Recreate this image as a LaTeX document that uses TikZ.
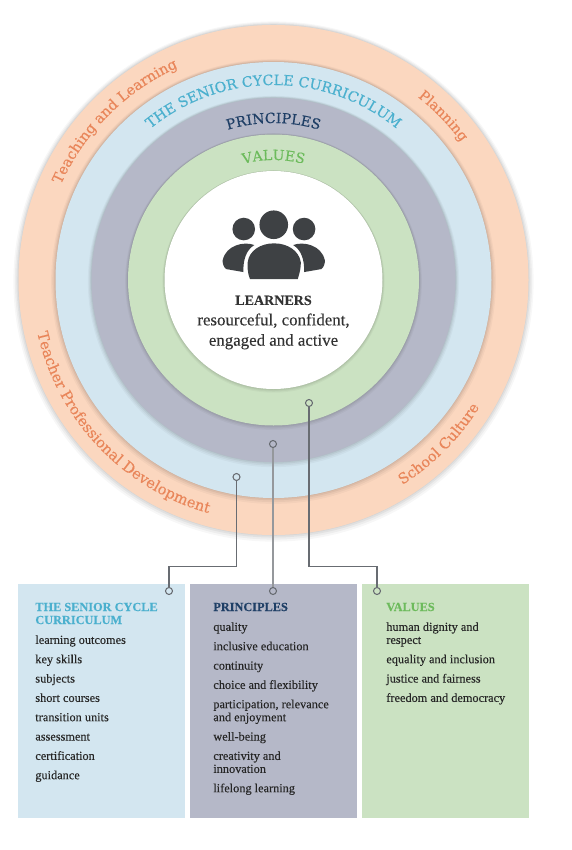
\documentclass[tikz,border=0pt]{standalone}
\usepackage{fontspec}
\setmainfont[FakeBold=0.15,BoldFont={Liberation Serif Bold},BoldFeatures={FakeBold=0.2}]{Liberation Serif}
\newfontfamily\ringfont[FakeBold=0.3]{DejaVu Serif}
\usetikzlibrary{shadows,decorations.text}
\definecolor{peachring}{HTML}{FBD7BF}
\definecolor{bluering}{HTML}{D3E6F0}
\definecolor{greyring}{HTML}{B5B8C8}
\definecolor{greenring}{HTML}{CBE2C2}
\definecolor{peachtext}{HTML}{E9865A}
\definecolor{bluetext}{HTML}{4BB0CE}
\definecolor{navytext}{HTML}{1F3F66}
\definecolor{greentext}{HTML}{6DBB5C}
\definecolor{icongrey}{HTML}{3E4144}
\definecolor{wiregrey}{HTML}{686C72}
\begin{document}
\begin{tikzpicture}[
  softedge/.style={
    drop shadow={shadow xshift=0cm, shadow yshift=-0.03cm, shadow scale=1.02, opacity=.03, fill=black},
    drop shadow={shadow xshift=0cm, shadow yshift=-0.02cm, shadow scale=1.014, opacity=.04, fill=black},
    drop shadow={shadow xshift=0cm, shadow yshift=-0.01cm, shadow scale=1.008, opacity=.05, fill=black},
    drop shadow={shadow xshift=0cm, shadow yshift=0cm, shadow scale=1.003, opacity=.05, fill=black}},
  ring/.style={circle, inner sep=0pt, softedge},
  panel/.style={minimum width=3.34cm, minimum height=4.68cm, anchor=north west, inner sep=0pt},
  paneltitle/.style={anchor=north west, inner sep=0pt, align=left, font=\bfseries\fontsize{7}{7.4}\selectfont},
  panellist/.style={anchor=north west, inner sep=0pt, align=left, text=black!85, font=\fontsize{7}{7.4}\selectfont},
  dot/.style={circle, draw=wiregrey, line width=0.6pt, inner sep=0pt, minimum size=0.14cm},
  wire/.style={draw=wiregrey, line width=0.6pt},
  arclabel/.style n args={3}{decorate, decoration={text along path, text align=center,
    text={|\ringfont\fontsize{#2}{#2}\selectfont\color{#1}|#3}}}
]
\useasboundingbox (0,0) rectangle (11.44,-17);
% rings
\node[ring, fill=peachring, minimum size=10.2cm] (outer) at (5.47,-5.6) {};
\node[ring, fill=bluering, minimum size=8.72cm] (curriculum) at (5.47,-5.6) {};
\node[ring, fill=greyring, minimum size=7.28cm] (principles) at (5.47,-5.6) {};
\node[ring, fill=greenring, minimum size=5.82cm] (values) at (5.47,-5.6) {};
\node[ring, fill=white, minimum size=4.36cm] (learners) at (5.47,-5.6) {};
% labels on the rings
\begin{scope}[shift={(5.47,-5.6)}]
\path[arclabel={peachtext}{8.2}{Teaching and Learning}] (158:4.66) arc (158:112:4.66);
\path[arclabel={peachtext}{8}{Planning}] (54.5:4.66) arc (54.5:33.5:4.66);
\path[arclabel={peachtext}{8.4}{Teacher Professional Development}] (190:4.84) arc (190:257:4.84);
\path[arclabel={peachtext}{8.3}{School Culture}] (299.5:4.84) arc (299.5:331:4.84);
\path[arclabel={bluetext}{8.1}{THE SENIOR CYCLE CURRICULUM}] (133:3.9) arc (133:47:3.9);
\path[arclabel={navytext}{8}{PRINCIPLES}] (110:3.14) arc (110:70:3.14);
\path[arclabel={greentext}{8}{VALUES}] (110:2.4) arc (110:70:2.4);
\end{scope}
% icon
\begin{scope}[x=0.02cm, y=-0.02cm, fill=icongrey]
\fill (273.7,224.7) circle (14.3);
\fill (243.7,229) circle (11.3);
\fill (304,229) circle (11.3);
\fill (250,279) .. controls (247,272) and (247.5,266) .. (247.7,262)
  .. controls (249,251) and (260,243.3) .. (274,243.3)
  .. controls (288,243.3) and (299,251) .. (300.7,262)
  .. controls (301,266) and (300,272) .. (297.7,279) -- cycle;
\fill (254.3,245) .. controls (246,250) and (243,260) .. (243.3,272) -- (226,269)
  .. controls (223.5,267) and (222.3,263) .. (222.7,260)
  .. controls (226,245) and (244,241) .. (254.3,245) -- cycle;
\fill (293.1,245) .. controls (301.4,250) and (304.4,260) .. (304.1,272) -- (321.4,269)
  .. controls (323.9,267) and (325.1,263) .. (324.7,260)
  .. controls (321.4,245) and (303.4,241) .. (293.1,245) -- cycle;
\end{scope}
\node[align=center, text=black!80, font=\fontsize{9.6}{11.6}\selectfont] (learnerstext) at (5.47,-6.45)
  {{\bfseries\fontsize{8}{11.6}\selectfont LEARNERS}\\resourceful, confident,\\engaged and active};
% panels
\node[panel, fill=bluering] (curriculumbox) at (0.36,-11.68) {};
\node[panel, fill=greyring] (principlesbox) at (3.80,-11.68) {};
\node[panel, fill=greenring] (valuesbox) at (7.24,-11.68) {};
\node[paneltitle, text=bluetext] (curriculumtitle) at (0.70,-12.05) {THE SENIOR CYCLE\\CURRICULUM};
\node[panellist] (curriculumlist) at (0.70,-12.70) {learning outcomes\\[3.6pt]key skills\\[3.6pt]subjects\\[3.6pt]short courses\\[3.6pt]transition units\\[3.6pt]assessment\\[3.6pt]certification\\[3.6pt]guidance};
\node[paneltitle, text=navytext] (principlestitle) at (4.26,-12.05) {PRINCIPLES};
\node[panellist] (principleslist) at (4.26,-12.44) {quality\\[3.6pt]inclusive education\\[3.6pt]continuity\\[3.6pt]choice and flexibility\\[3.6pt]participation, relevance\\and enjoyment\\[3.6pt]well-being\\[3.6pt]creativity and\\innovation\\[3.6pt]lifelong learning};
\node[paneltitle, text=greentext] (valuestitle) at (7.72,-12.05) {VALUES};
\node[panellist] (valueslist) at (7.72,-12.44) {human dignity and\\respect\\[3.6pt]equality and inclusion\\[3.6pt]justice and fairness\\[3.6pt]freedom and democracy};
% wires
\coordinate (wirelevel) at (0,-11.33);
\node[dot] (curriculumdot) at (4.73,-9.54) {};
\node[dot] (principlesdot) at (5.46,-8.88) {};
\node[dot] (valuesdot) at (6.18,-8.06) {};
\node[dot] (curriculumend) at (3.38,-11.82) {};
\node[dot] (principlesend) at (5.46,-11.82) {};
\node[dot] (valuesend) at (7.54,-11.82) {};
\draw[wire] (curriculumdot) -- (curriculumdot |- wirelevel) -| (curriculumend);
\draw[wire, draw=wiregrey!70] (principlesdot) -- (principlesend);
\draw[wire] (valuesdot) -- (valuesdot |- wirelevel) -| (valuesend);
\end{tikzpicture}
\end{document}
